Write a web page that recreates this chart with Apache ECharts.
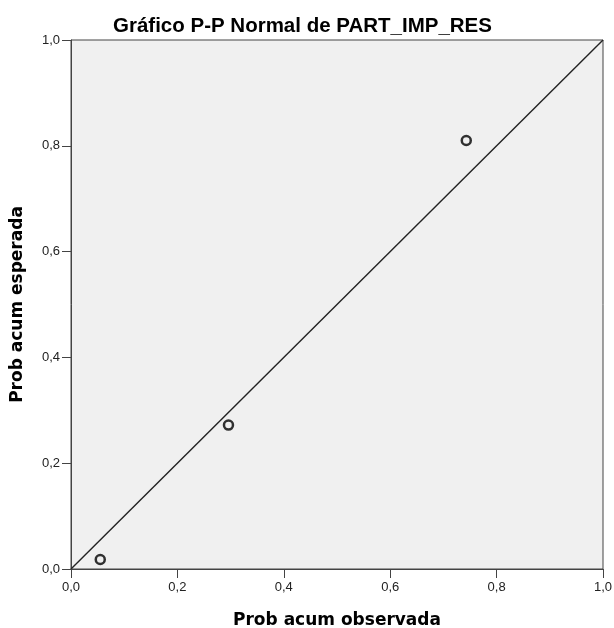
<!DOCTYPE html>
<html><head><meta charset="utf-8">
<script src="https://cdn.jsdelivr.net/npm/echarts@6/dist/echarts.min.js"></script>
<style>html,body{margin:0;padding:0;background:#fff}#c{width:614px;height:628px}</style>
</head><body><div id="c"></div>
<script>
var observed = [0.055, 0.296, 0.743];
var expected = [0.018, 0.272, 0.810];
var refLine = [[0, 0], [1, 1]];
var chartTitle = 'Gráfico P-P Normal de PART_IMP_RES';
var xName = 'Prob acum observada';
var yName = 'Prob acum esperada';

var pts = observed.map(function (v, i) { return [v, expected[i]]; });
var fmt = function (v) { return v.toFixed(1).replace('.', ','); };
var chart = echarts.init(document.getElementById('c'));
chart.setOption({
  animation: false,
  backgroundColor: '#ffffff',
  title: { text: chartTitle, left: 108, top: 11, textStyle: { fontFamily: 'Liberation Sans', fontSize: 20.5, fontWeight: 'bold', color: '#000' } },
  grid: { left: 71, right: 11, top: 40, bottom: 59, containLabel: false, outerBoundsMode: 'none', show: true, backgroundColor: '#f0f0f0', borderColor: '#444', borderWidth: 1 },
  xAxis: {
    type: 'value', min: 0, max: 1, interval: 0.2,
    name: xName, nameLocation: 'middle', nameGap: 43,
    nameTextStyle: { fontFamily: 'DejaVu Sans', fontSize: 17, fontWeight: 'bold', color: '#000' },
    axisLine: { show: true, lineStyle: { color: '#444' } },
    axisTick: { show: true, inside: false, length: 9, lineStyle: { color: '#444' } },
    axisLabel: { formatter: fmt, fontFamily: 'Liberation Sans', fontSize: 13, color: '#222', margin: 12 },
    splitLine: { show: false }
  },
  yAxis: {
    type: 'value', min: 0, max: 1, interval: 0.2,
    name: yName, nameLocation: 'middle', nameGap: 45, nameRotate: 90,
    nameTextStyle: { fontFamily: 'DejaVu Sans', fontSize: 17, fontWeight: 'bold', color: '#000' },
    axisLine: { show: true, lineStyle: { color: '#444' } },
    axisTick: { show: true, inside: false, length: 9, lineStyle: { color: '#444' } },
    axisLabel: { formatter: fmt, fontFamily: 'Liberation Sans', fontSize: 13, color: '#222', margin: 11 },
    splitLine: { show: false }
  },
  series: [
    { type: 'line', data: refLine, symbol: 'none', lineStyle: { color: '#222', width: 1.4 }, silent: true },
    { type: 'scatter', data: pts, symbol: 'circle', symbolSize: 9, itemStyle: { color: 'rgba(0,0,0,0)', borderColor: '#000', borderWidth: 2.5 } }
  ]
});
</script></body></html>
